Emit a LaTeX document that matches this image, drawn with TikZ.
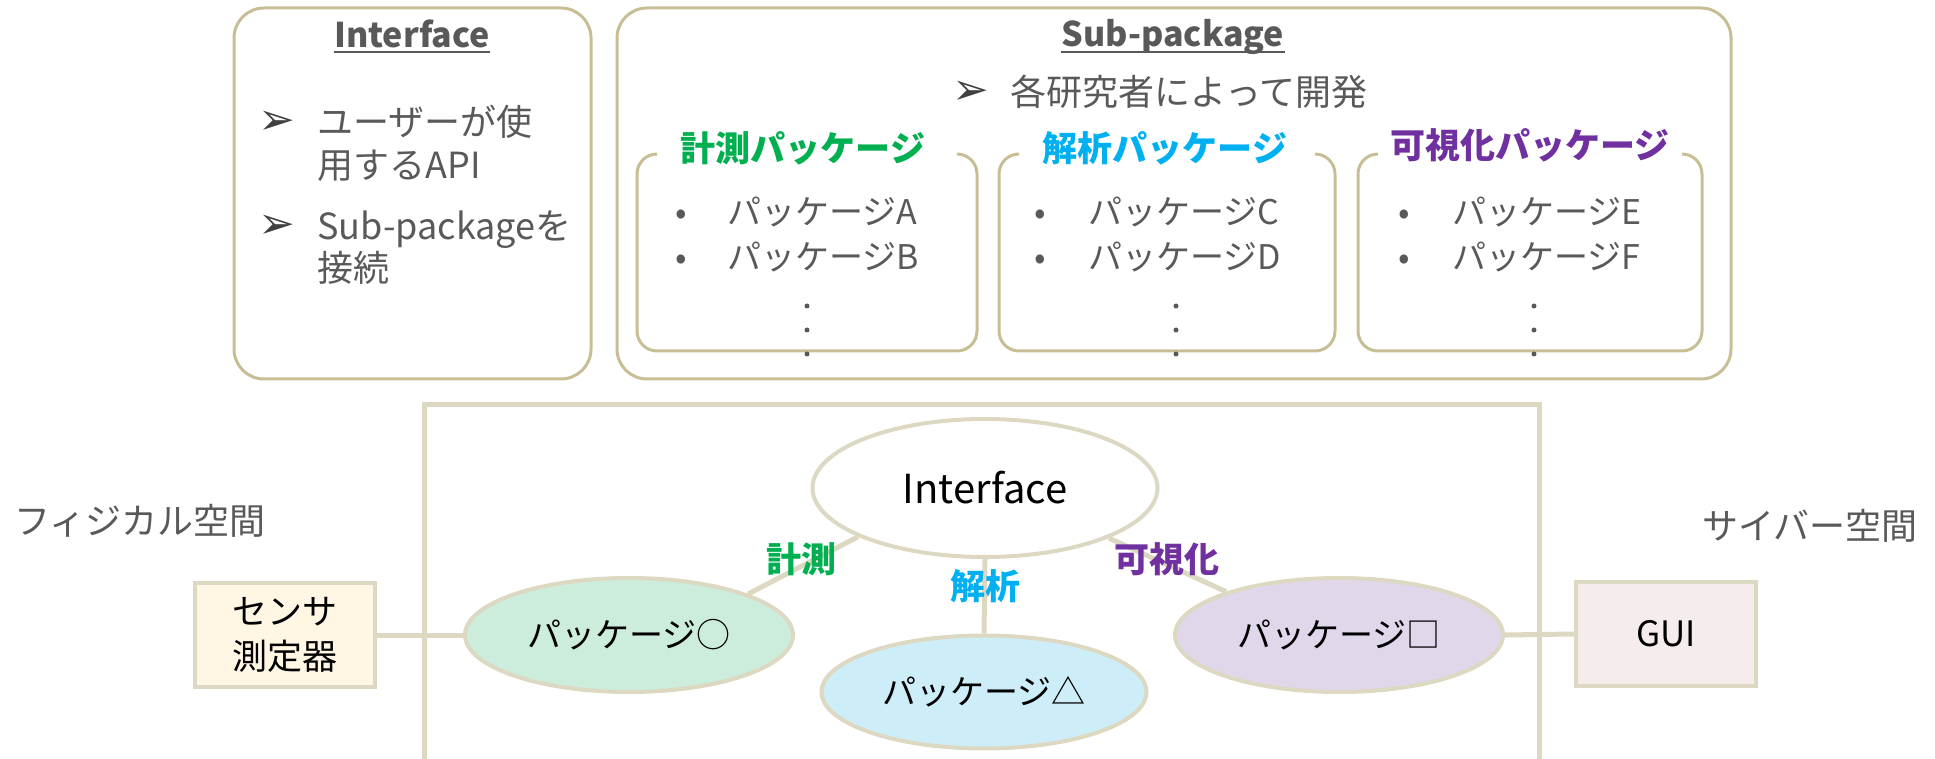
\documentclass[tikz,border=0pt]{standalone}
\usepackage{fontspec}
\setmainfont{Noto Sans CJK JP}
\newfontfamily\dejavu{DejaVu Sans}
\usetikzlibrary{shapes.geometric}
\definecolor{khaki}{HTML}{C8BE95}
\definecolor{beigeline}{HTML}{DDD8C2}
\definecolor{tgray}{HTML}{595959}
\definecolor{cgreen}{HTML}{00B050}
\definecolor{ccyan}{HTML}{00B0F0}
\definecolor{cpurple}{HTML}{7030A0}
\definecolor{fsensor}{HTML}{FFF7E4}
\definecolor{fgui}{HTML}{F5ECEC}
\definecolor{fgreen}{HTML}{CDEDDC}
\definecolor{fcyan}{HTML}{CDEEF8}
\definecolor{fpurple}{HTML}{E1D7EB}
\begin{document}
\begin{tikzpicture}[x=0.5pt,y=-0.5pt,
  tx/.style={inner sep=0pt, text height=0.88em, text depth=0.12em},
  body/.style={tx, text=tgray, font=\fontsize{18}{22}\selectfont, anchor=west},
  item/.style={tx, text=tgray, font=\fontsize{17}{21}\selectfont, anchor=west},
  bul/.style={tx, text=tgray, font=\fontsize{17}{21}\selectfont},
  arr/.style={inner sep=0pt, text height=0.68em, text depth=0pt, text=black!75, font=\dejavu\fontsize{22}{24}\selectfont},
  title/.style={inner sep=0pt, text=tgray, font=\bfseries\fontsize{17}{21}\selectfont, anchor=base},
  subtitle/.style={tx, font=\bfseries\fontsize{17.5}{21}\selectfont},
  outerbox/.style={draw=khaki, line width=1.5pt, rounded corners=15pt},
  subbox/.style={draw=khaki, line width=1.5pt, rounded corners=10pt},
  vdot/.style={circle, fill=tgray, inner sep=0pt, minimum size=2.5pt},
  conn/.style={draw=beigeline, line width=2.5pt},
  pkg/.style={ellipse, draw=beigeline, line width=2pt, inner sep=0pt, text=black, font=\fontsize{17}{21}\selectfont},
  dev/.style={rectangle, draw=beigeline, line width=2pt, inner sep=0pt, minimum width=90pt, minimum height=52pt, text=black, font=\fontsize{17.5}{22.5}\selectfont, align=center},
  space/.style={tx, text=tgray, font=\fontsize{18}{22}\selectfont},
  lab/.style={tx, font=\bfseries\fontsize{17.5}{21}\selectfont}
]
\useasboundingbox (0,0) rectangle (1935,759);

% ---------- Interface box ----------
\draw[outerbox] (234,8) rectangle (591,379);
\node[title] (ititle) at (412,48) {Interface};
\draw[tgray, line width=1.2pt] ([yshift=-2pt]ititle.base west) -- ([yshift=-2pt]ititle.base east);
\node[arr] (ia1) at (277,128) {➢};
\node[body] (il1) at (317,128) {ユーザーが使};
\node[body] (il2) at (317,171) {用するAPI};
\node[arr] (ia2) at (277,232) {➢};
\node[body] (il3) at (317,232) {Sub-packageを};
\node[body] (il4) at (317,274) {接続};

% ---------- Sub-package box ----------
\draw[outerbox] (617,8) rectangle (1731,379);
\node[title] (stitle) at (1173,47) {Sub-package};
\draw[tgray, line width=1.2pt] ([yshift=-2.5pt]stitle.base west) -- ([yshift=-2.5pt]stitle.base east);
\node[arr] (sa) at (971,98) {➢};
\node[body] (sl) at (1010,98) {各研究者によって開発};

% sub boxes
\draw[subbox] (657,154) -- (637,154) -- (637,351) -- (977,351) -- (977,154) -- (957,154);
\draw[subbox] (1019,154) -- (999,154) -- (999,351) -- (1335,351) -- (1335,154) -- (1315,154);
\draw[subbox] (1378,154) -- (1358,154) -- (1358,351) -- (1702,351) -- (1702,154) -- (1682,154);
\node[subtitle, text=cgreen] (t1) at (803,154) {計測パッケージ};
\node[subtitle, text=ccyan] (t2) at (1165,154) {解析パッケージ};
\node[subtitle, text=cpurple] (t3) at (1530,151) {可視化パッケージ};

\node[bul] (b1a) at (681,217) {•};
\node[item] (p1a) at (727,217) {パッケージA};
\node[bul] (b1b) at (681,262) {•};
\node[item] (p1b) at (727,262) {パッケージB};
\node[bul] (b2a) at (1040,217) {•};
\node[item] (p2a) at (1088,217) {パッケージC};
\node[bul] (b2b) at (1040,262) {•};
\node[item] (p2b) at (1088,262) {パッケージD};
\node[bul] (b3a) at (1404,217) {•};
\node[item] (p3a) at (1452,217) {パッケージE};
\node[bul] (b3b) at (1404,262) {•};
\node[item] (p3b) at (1452,262) {パッケージF};

\foreach \x/\n in {807/a,1176/b,1534/c}{
  \node[vdot] (d1\n) at (\x,306) {};
  \node[vdot] (d2\n) at (\x,330) {};
  \node[vdot] (d3\n) at (\x,354) {};
}

% ---------- Bottom part ----------
\draw[draw=beigeline, line width=2.5pt] (424,770) -- (424,405) -- (1539,405) -- (1539,770);

\node[space, anchor=west] (phys) at (14,527) {フィジカル空間};
\node[space, anchor=east] (cyber) at (1918,532) {サイバー空間};

\node[dev, fill=fsensor] (sensor) at (285,635) {センサ\\測定器};
\node[dev, fill=fgui] (gui) at (1666,634) {GUI};

\node[pkg, fill=white, minimum width=172.5pt, minimum height=69pt, font=\fontsize{20}{24}\selectfont] (iface) at (985,488) {\raisebox{-2pt}{Interface}};
\node[pkg, fill=fgreen, minimum width=164pt, minimum height=57pt] (pkgA) at (629,635) {パッケージ○};
\node[pkg, fill=fcyan, minimum width=162.5pt, minimum height=56.5pt] (pkgB) at (984,692) {パッケージ△};
\node[pkg, fill=fpurple, minimum width=164pt, minimum height=57pt] (pkgC) at (1339,635) {パッケージ□};

\draw[conn] (iface.201.4) -- (pkgA.19.3);
\draw[conn] (iface.south) -- (pkgB.north);
\draw[conn] (iface.338.4) -- (pkgC.159.8);
\draw[conn] (sensor.east) -- (pkgA.west);
\draw[conn] (pkgC.east) -- (gui.west);

\node[lab, text=cgreen] (l1) at (801,565) {計測};
\node[lab, text=ccyan] (l2) at (985,592) {解析};
\node[lab, text=cpurple] (l3) at (1167,565) {可視化};
\end{tikzpicture}
\end{document}
